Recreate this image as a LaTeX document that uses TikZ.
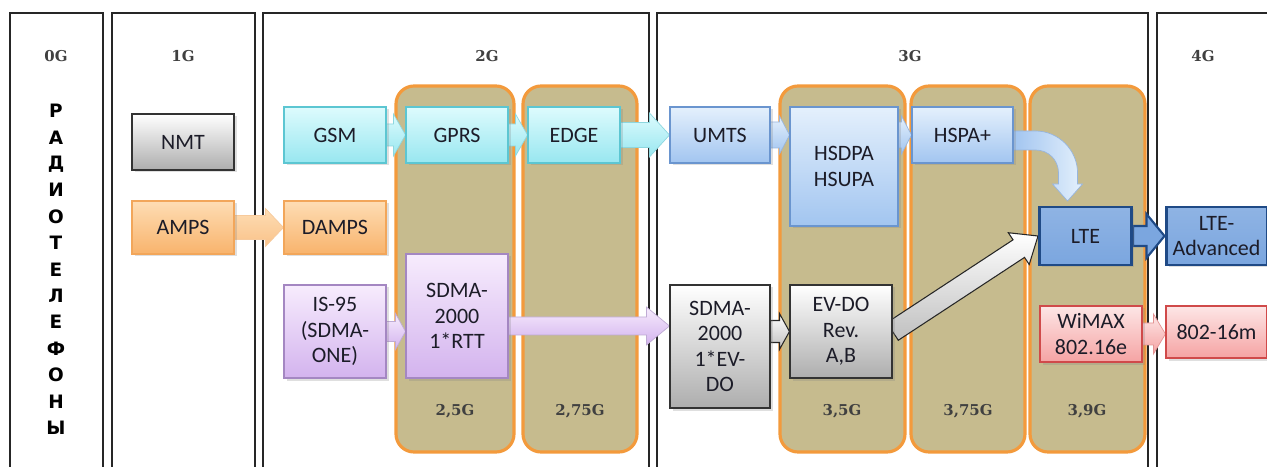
\documentclass[tikz,border=0pt]{standalone}
\usepackage{fontspec}
\setmainfont{Carlito}
\newfontfamily\genfont{DejaVu Serif}
\newfontfamily\vertfont{DejaVu Sans}
\usetikzlibrary{calc,shadows}
\pgfdeclarelayer{bg}
\pgfdeclarelayer{mid}
\pgfsetlayers{bg,mid,main}

\definecolor{khaki}{HTML}{C6BB8E}
\definecolor{subgenline}{HTML}{F39A3C}
\definecolor{boxtext}{HTML}{1C1C28}
\definecolor{cyanline}{HTML}{5CC6D2}
\definecolor{cyantop}{HTML}{DDFBFD}
\definecolor{cyanbot}{HTML}{98E7F0}
\definecolor{blueline}{HTML}{6A95CF}
\definecolor{bluetop}{HTML}{E4F0FC}
\definecolor{bluebot}{HTML}{A2C5F0}
\definecolor{orangeline}{HTML}{F2A65A}
\definecolor{orangetop}{HTML}{FEDDB4}
\definecolor{orangebot}{HTML}{F8B36C}
\definecolor{purpleline}{HTML}{A487C2}
\definecolor{purpletop}{HTML}{F7ECFD}
\definecolor{purplebot}{HTML}{D3B3EE}
\definecolor{redline}{HTML}{D04A4A}
\definecolor{redtop}{HTML}{FDE6E6}
\definecolor{redbot}{HTML}{F5A3A3}
\definecolor{lteline}{HTML}{1F4A86}
\definecolor{ltefill}{HTML}{7BA6DF}

% fat arrow between two points: [style]{from}{to}{shaft half}{head half}{head length}
\newcommand\blockarrow[6][]{%
  \draw[#1] ($(#2)!#4!90:(#3)$) -- ($(#3)!#6!(#2)!#4!-90:(#2)$)
    -- ($(#3)!#6!(#2)!#5!-90:(#2)$) -- (#3)
    -- ($(#3)!#6!(#2)!#5!90:(#2)$) -- ($(#3)!#6!(#2)!#4!90:(#2)$)
    -- ($(#2)!#4!-90:(#3)$) -- cycle;
}

\begin{document}
\begin{tikzpicture}[x=0.2mm, y=-0.2mm,
  panel/.style = {draw=black!85, line width=0.8pt, fill=white},
  subgen/.style = {draw=subgenline, line width=1.8pt, fill=khaki, rounded corners=3.6mm},
  gen/.style = {font=\genfont\bfseries\fontsize{8.5}{10}\selectfont, text=black!75},
  vert/.style = {font=\vertfont\bfseries\fontsize{10.5}{12}\selectfont},
  box/.style = {line width=0.6pt, align=center, inner sep=1pt, text=boxtext,
    font=\fontsize{12.5}{14.5}\selectfont,
    drop shadow={opacity=0.25, shadow xshift=0.5mm, shadow yshift=-0.5mm}},
  cyanbox/.style = {box, draw=cyanline, top color=cyantop, bottom color=cyanbot},
  bluebox/.style = {box, draw=blueline, top color=bluetop, bottom color=bluebot},
  graybox/.style = {box, draw=black!80, top color=white, bottom color=black!32},
  orangebox/.style = {box, draw=orangeline, top color=orangetop, bottom color=orangebot},
  purplebox/.style = {box, draw=purpleline, top color=purpletop, bottom color=purplebot},
  redbox/.style = {box, draw=redline, top color=redtop, bottom color=redbot},
  ltebox/.style = {box, draw=lteline, line width=1.7pt, top color=ltefill!85!white, bottom color=ltefill},
  cyanarr/.style = {draw=cyanline!70, line width=0.4pt, top color=cyantop, bottom color=cyanbot},
  bluearr/.style = {draw=blueline!70, line width=0.4pt, top color=bluetop, bottom color=bluebot},
  grayarr/.style = {draw=black!85, line width=0.6pt, top color=white, bottom color=black!25},
  orangearr/.style = {draw=orangeline!60, line width=0.4pt, top color=orangetop, bottom color=orangebot!80!white},
  purplearr/.style = {draw=purpleline!70, line width=0.4pt, top color=purpletop, bottom color=purplebot},
  redarr/.style = {draw=redline!60, line width=0.4pt, top color=redtop, bottom color=redbot},
  ltearr/.style = {draw=lteline, line width=1.2pt, fill=ltefill}]

  \useasboundingbox (0,0) rectangle (1267,467);
  \clip (0,0) rectangle (1267,467);

  \begin{pgfonlayer}{bg}
    % generations
    \draw[panel] (10,13) rectangle (103,490);
    \draw[panel] (112,13) rectangle (255,490);
    \draw[panel] (263,13) rectangle (649,490);
    \draw[panel] (657,13) rectangle (1148,490);
    \draw[panel] (1157,13) rectangle (1300,490);
    % sub-generations
    \draw[subgen] (396,86) rectangle (514,452);
    \draw[subgen] (523,86) rectangle (637,452);
    \draw[subgen] (780,86) rectangle (905,452);
    \draw[subgen] (911,86) rectangle (1025,452);
    \draw[subgen] (1030,86) rectangle (1145,452);
  \end{pgfonlayer}

  \node[gen] (g0) at (56,56) {0G};
  \node[gen] (g1) at (183,56) {1G};
  \node[gen] (g2) at (487,56) {2G};
  \node[gen] (g3) at (910,56) {3G};
  \node[gen] (g4) at (1203,56) {4G};
  \node[gen] (g25) at (455,411) {2,5G};
  \node[gen] (g275) at (580,411) {2,75G};
  \node[gen] (g35) at (842,411) {3,5G};
  \node[gen] (g375) at (968,411) {3,75G};
  \node[gen] (g39) at (1087,411) {3,9G};

  \foreach \ch [count=\i] in {Р,А,Д,И,О,Т,Е,Л,Е,Ф,О,Н,Ы}
    \node[vert] (v\i) at (56,{111+26.4*(\i-1)}) {\ch};

  % 1G
  \node[graybox, minimum width=20.4mm, minimum height=11.2mm] (nmt) at (183,142) {NMT};
  \node[orangebox, minimum width=20.4mm, minimum height=10.6mm] (amps) at (183,227.5) {AMPS};
  % 2G
  \node[cyanbox, minimum width=20.4mm, minimum height=11.2mm] (gsm) at (335,135) {GSM};
  \node[orangebox, minimum width=20.4mm, minimum height=10.6mm] (damps) at (335,227.5) {DAMPS};
  \node[purplebox, minimum width=20.4mm, minimum height=18.6mm] (is95) at (335,331.5) {IS-95\\(SDMA-\\ONE)};
  \node[cyanbox, minimum width=20.4mm, minimum height=11.2mm] (gprs) at (457,135) {GPRS};
  \node[purplebox, minimum width=20.4mm, minimum height=24.8mm] (rtt) at (457,316) {SDMA-\\2000\\1*RTT};
  \node[cyanbox, minimum width=18.4mm, minimum height=11.2mm] (edge) at (574,135) {EDGE};
  % 3G
  \node[bluebox, minimum width=20mm, minimum height=11.2mm] (umts) at (720,135) {UMTS};
  \node[graybox, minimum width=20mm, minimum height=24.6mm] (evdox) at (720,346.5) {SDMA-\\2000\\1*EV-\\DO};
  \node[bluebox, minimum width=21.6mm, minimum height=23.8mm] (hsdpa) at (844,166.5) {HSDPA\\HSUPA};
  \node[graybox, minimum width=20.4mm, minimum height=18.6mm] (evdo) at (841,331.5) {EV-DO\\Rev.\\A,B};
  \node[bluebox, minimum width=20.2mm, minimum height=11.2mm] (hspa) at (962.5,135) {HSPA+};
  \node[ltebox, minimum width=18.4mm, minimum height=11.6mm] (lte) at (1085.5,236) {LTE};
  \node[redbox, minimum width=20.4mm, minimum height=11.2mm] (wimax) at (1091,334) {WiMAX\\802.16e};
  % 4G
  \node[ltebox, minimum width=20.2mm, minimum height=11.6mm] (ltea) at (1216.5,236) {LTE-\\Advanced};
  \node[redbox, minimum width=20.2mm, minimum height=10.4mm] (m16) at (1216.5,332) {802-16m};

  \coordinate (rttout) at ([yshift=-2mm]rtt.east);

  \begin{pgfonlayer}{mid}
    \blockarrow[cyanarr]{gsm.east}{gprs.west}{2.2mm}{4.2mm}{2.4mm}
    \blockarrow[cyanarr]{gprs.east}{edge.west}{2.2mm}{4.2mm}{2.4mm}
    \blockarrow[cyanarr]{edge.east}{umts.west}{2.5mm}{4.4mm}{4mm}
    \blockarrow[bluearr]{umts.east}{umts.east -| hsdpa.west}{2.6mm}{3.8mm}{2mm}
    \blockarrow[bluearr]{hsdpa.east |- hspa.west}{hspa.west}{2.6mm}{3.8mm}{2mm}
    \blockarrow[orangearr]{amps.east}{damps.west}{2.4mm}{3.8mm}{3.6mm}
    \blockarrow[purplearr]{is95.east}{is95.east -| rtt.west}{2mm}{3.6mm}{2mm}
    \blockarrow[purplearr]{rttout}{rttout -| evdox.west}{1.8mm}{3.8mm}{4.6mm}
    \blockarrow[grayarr]{evdo.west -| evdox.east}{evdo.west}{2.2mm}{3.6mm}{2mm}
    \blockarrow[grayarr]{evdo.east}{lte.west}{2.1mm}{3.8mm}{4.6mm}
    \blockarrow[ltearr]{lte.east}{ltea.west}{2mm}{4.4mm}{3.6mm}
    \blockarrow[redarr]{wimax.east}{wimax.east -| m16.west}{2.2mm}{4mm}{2.4mm}
    % HSPA+ bends down to LTE
    \draw[draw=blueline!70, line width=0.4pt, left color=bluebot, right color=bluetop]
      ([yshift=0.8mm]hspa.east) -- ++(22,0) .. controls +(23,0) and +(0,-23) .. ++(42,42)
      -- ++(0,11) -- ++(5,0) -- ++(-15,17) -- ++(-15,-17) -- ++(6,0) -- ++(0,-11)
      .. controls +(0,-13) and +(13,0) .. ++(-23,-23) -- ++(-22,0) -- cycle;
  \end{pgfonlayer}
\end{tikzpicture}
\end{document}
